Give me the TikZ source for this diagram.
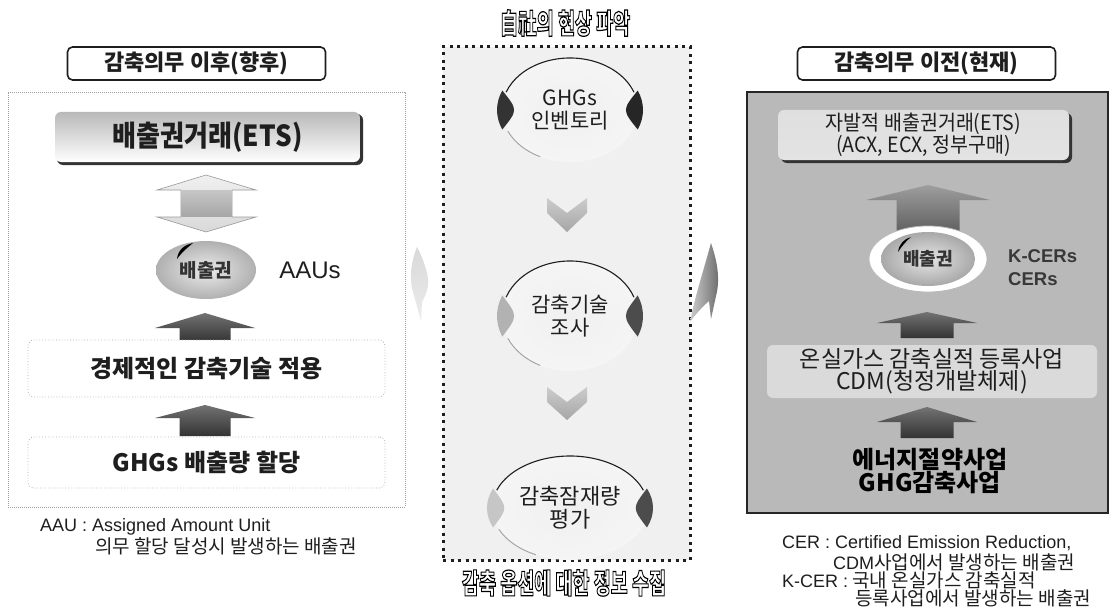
\documentclass[tikz,border=0pt]{standalone}
\usepackage{fontspec}
\usepackage{graphicx}
\setmainfont{Noto Sans CJK KR}
\newfontfamily\lat{Liberation Sans}
\usetikzlibrary{shapes.geometric,calc}
\definecolor{ink}{HTML}{1E1E1E}
\definecolor{cbg}{HTML}{F0F0F0}
\definecolor{rbg}{HTML}{B9B9B9}
\definecolor{rbox}{HTML}{E3E3E3}
\definecolor{rlight}{HTML}{DADADA}
\newcommand\fsz[2]{\fontsize{#1}{#2}\selectfont}
\newcommand\cond[2]{\scalebox{#1}[1]{#2}}
\newcommand\outl[1]{\special{pdf:literal direct 2 Tr 1.2 w 0 G 1 g}#1\special{pdf:literal direct 0 Tr 0.4 w}}
\newcommand\uparr[7]{\path[#7] (#1,#2) -- ({#1+#5},#3) -- ({#1+#6},#3) -- ({#1+#6},#4) -- ({#1-#6},#4) -- ({#1-#6},#3) -- ({#1-#5},#3) -- cycle;}
\newcommand\headset[5]{%
\begin{scope}[shift={(#1.center)}]
 \draw[ink, line width=1.1pt] ({#2*cos(200)},{#3*sin(200)}) arc[start angle=200, end angle=340, x radius=#2, y radius=#3];
 \draw[gray!70, line width=1pt] ({#2*cos(156)},{#3*sin(156)}) arc[start angle=156, end angle=116, x radius=#2, y radius=#3];
 \fill[#4] ({(#2+5)*cos(202)},{#3*sin(202)}) arc[start angle=202, end angle=158, x radius=#2+5, y radius=#3] .. controls ({-#2+16},0) .. cycle;
 \fill[#5] ({(#2+5)*cos(-22)},{#3*sin(-22)}) arc[start angle=-22, end angle=22, x radius=#2+5, y radius=#3] .. controls ({#2-16},0) .. cycle;
\end{scope}}
\begin{document}
\begin{tikzpicture}[x=1pt,y=-1pt,
  hdr/.style={draw=ink, line width=1.6pt, rounded corners=5pt, fill=white, minimum width=258pt, minimum height=33pt, inner sep=0pt, font=\fsz{22}{24}\bfseries, text=ink},
  txt/.style={inner sep=0pt, text=ink},
  darkup/.style={top color=black!55, bottom color=black!80},
  lboxst/.style={draw=gray!60, dotted, line width=0.8pt, rounded corners=6pt, fill=white, minimum width=357pt, inner sep=0pt, text=ink},
  hp/.style={ellipse, inner sep=0pt, inner color=cbg, outer color=gray!8, text=ink, align=center},
  chev/.style={top color=gray!40, bottom color=gray!70},
  ftn/.style={inner sep=0pt, anchor=west, text=ink},
  otw/.style={inner sep=0pt, font=\fsz{28}{28}\bfseries}
]
\useasboundingbox[fill=white] (0,0) rectangle (1115,607);

% ================= LEFT =================
\node[hdr] (hdrL) at (196.5,63.5) {감축의무 이후(향후)};
\node[draw=gray!75, line width=0.8pt, dash pattern=on 0.8pt off 1.2pt, fill=white, minimum width=397pt, minimum height=415pt, inner sep=0pt] (panelL) at (206.5,299.5) {};
\node[fill=black!80, rounded corners=6pt, minimum width=306pt, minimum height=51pt, inner sep=0pt] (etsLsh) at (210,139.5) {};
\node[top color=gray!55, bottom color=white, rounded corners=6pt, minimum width=305pt, minimum height=50pt, inner sep=0pt, text=ink] (etsL) at (207.5,137) {\fsz{29}{29}\bfseries\cond{0.9}{배출권거래(ETS)}};
% double arrow
\path[top color=gray!12, bottom color=gray!30, draw=gray!80, line width=0.6pt] (206,175) -- (256,190) -- (232,190) -- (232,217) -- (256,217) -- (206,232) -- (157,217) -- (181,217) -- (181,190) -- (157,190) -- cycle;
\path[top color=gray!45, bottom color=gray!70] (181.5,190.5) rectangle (231.5,216.5);
% ellipse
\node[ellipse, inner color=gray!15, outer color=gray!62, minimum width=100pt, minimum height=58pt, inner sep=0pt, text=black!80] (emL) at (206,270) {\fsz{19}{19}\bfseries 배출권};
\fill[black] (177,259) .. controls (178,250) and (184,245) .. (193,243) .. controls (187,248) and (182,252) .. (177,259) -- cycle;
\node[txt, font=\lat\fsz{24}{24}] (aaus) at (310,270) {AAUs};
\uparr{205}{313}{328}{342}{50}{25.5}{darkup}
\node[lboxst, minimum height=57pt] (boxL1) at (206.5,368.5) {\fsz{24}{24}\bfseries 경제적인 감축기술 적용};
\uparr{205}{405}{418}{436}{50}{25.5}{darkup}
\node[lboxst, minimum height=51pt] (boxL2) at (206.5,462.5) {\fsz{24}{24}\bfseries GHGs 배출량 할당};
\node[ftn, font=\lat\fsz{18}{18}] (fnL1) at (40,527) {AAU : Assigned Amount Unit};
\node[ftn, font=\fsz{19}{19}] (fnL2) at (95,546) {의무 할당 달성시 발생하는 배출권};

% ================= CENTRE =================
\node[fill=cbg, draw=ink, line width=3pt, dash pattern=on 3pt off 4.5pt, minimum width=247pt, minimum height=513pt, inner sep=0pt] (panelC) at (566.5,303.5) {};
\node[otw] (ttlC) at (565,23) {\outl{\cond{0.66}{自社의 현상 파악}}};
\node[otw] (botC) at (564,583) {\outl{\cond{0.66}{감축 옵션에 대한 정보 수집}}};

\node[hp, minimum width=136pt, minimum height=104pt, font=\fsz{21}{23}] (hp1) at (570,110) {GHGs\\인벤토리};
\headset{hp1}{68}{52}{black!80}{black!85}
\path[chev] (547,198) -- (567,213) -- (587,198) -- (587,213) -- (567,232) -- (547,213) -- cycle;
\node[hp, minimum width=136pt, minimum height=110pt, font=\fsz{21}{23}] (hp2) at (570,316) {감축기술\\조사};
\headset{hp2}{68}{55}{gray!60}{black!70}
\path[chev] (547,387) -- (567,402) -- (587,387) -- (587,402) -- (567,420) -- (547,402) -- cycle;
\node[hp, minimum width=156pt, minimum height=104pt, font=\fsz{22}{23}] (hp3) at (570,508) {감축잠재량\\평가};
\headset{hp3}{78}{52}{gray!45}{black!70}

% side arrows
\path[top color=gray!30, bottom color=gray!15] (417,247) .. controls (411,262) and (409,278) .. (413,292) -- (421,321) -- (422,302) .. controls (427,293) and (429,285) .. (428,278) .. controls (426,266) and (421,255) .. (417,247) -- cycle;
\path[left color=gray!40, right color=black!60] (711,243) .. controls (716,258) and (721,277) .. (716,296) -- (711,319) -- (709,301) .. controls (701,308) and (695,315) .. (690,322) .. controls (694,300) and (703,272) .. (711,243) -- cycle;

% ================= RIGHT =================
\node[hdr] (hdrR) at (926.5,63.5) {감축의무 이전(현재)};
\node[fill=rbg, draw=black!85, line width=2.2pt, minimum width=361pt, minimum height=421pt, inner sep=0pt] (panelR) at (927.5,302.5) {};
\node[fill=black!80, rounded corners=6pt, minimum width=291pt, minimum height=50pt, inner sep=0pt] (etsRsh) at (926.5,138) {};
\node[top color=gray!25, bottom color=rbox, rounded corners=6pt, minimum width=291pt, minimum height=50pt, inner sep=0pt, text=ink, align=center, font=\fsz{21}{21}] (etsR) at (923.5,135) {\cond{0.93}{자발적 배출권거래(ETS)}\\\cond{0.93}{(ACX, ECX, 정부구매)}};
\uparr{928}{185}{200}{231}{62}{31.5}{top color=black!38, bottom color=black!62}
\node[ellipse, fill=white, draw=gray!55, line width=0.8pt, minimum width=118pt, minimum height=66pt, inner sep=0pt] (emRring) at (928,259) {};
\node[ellipse, inner color=gray!20, outer color=gray!68, minimum width=94pt, minimum height=54pt, inner sep=0pt, text=black!80] (emR) at (928,259) {\fsz{18}{18}\bfseries 배출권};
\fill[black] (898,252) .. controls (899,244) and (904,239) .. (911,237) .. controls (906,241) and (902,246) .. (898,252) -- cycle;
\node[txt, anchor=west, align=left, text=black!78, font=\lat\bfseries\fsz{18.5}{23}] (kcers) at (1008,268) {K-CERs\\CERs};
\uparr{927}{312}{323}{338}{50}{26.5}{darkup}
\node[fill=rlight, rounded corners=6pt, minimum width=330pt, minimum height=53pt, inner sep=0pt, text=ink, align=center, font=\fsz{23}{22}] (boxR) at (932,371.5) {온실가스 감축실적 등록사업\\CDM(청정개발체제)};
\uparr{927}{407}{422}{438}{50}{26.5}{darkup}
\node[txt, align=center, text=black, font=\fsz{24}{22}\bfseries] (enR) at (930,471) {에너지절약사업\\GHG감축사업};
\node[ftn, font=\lat\fsz{18}{18}] (fnR1) at (782,543) {CER : Certified Emission Reduction,};
\node[ftn, font=\fsz{19}{19}] (fnR2) at (833,562) {{\lat\fsz{18}{18}CDM}사업에서 발생하는 배출권};
\node[ftn, font=\fsz{19}{19}] (fnR3) at (782,580) {{\lat\fsz{18}{18}K-CER :} 국내 온실가스 감축실적};
\node[ftn, font=\fsz{19}{19}] (fnR4) at (855,598) {등록사업에서 발생하는 배출권};
\end{tikzpicture}
\end{document}
